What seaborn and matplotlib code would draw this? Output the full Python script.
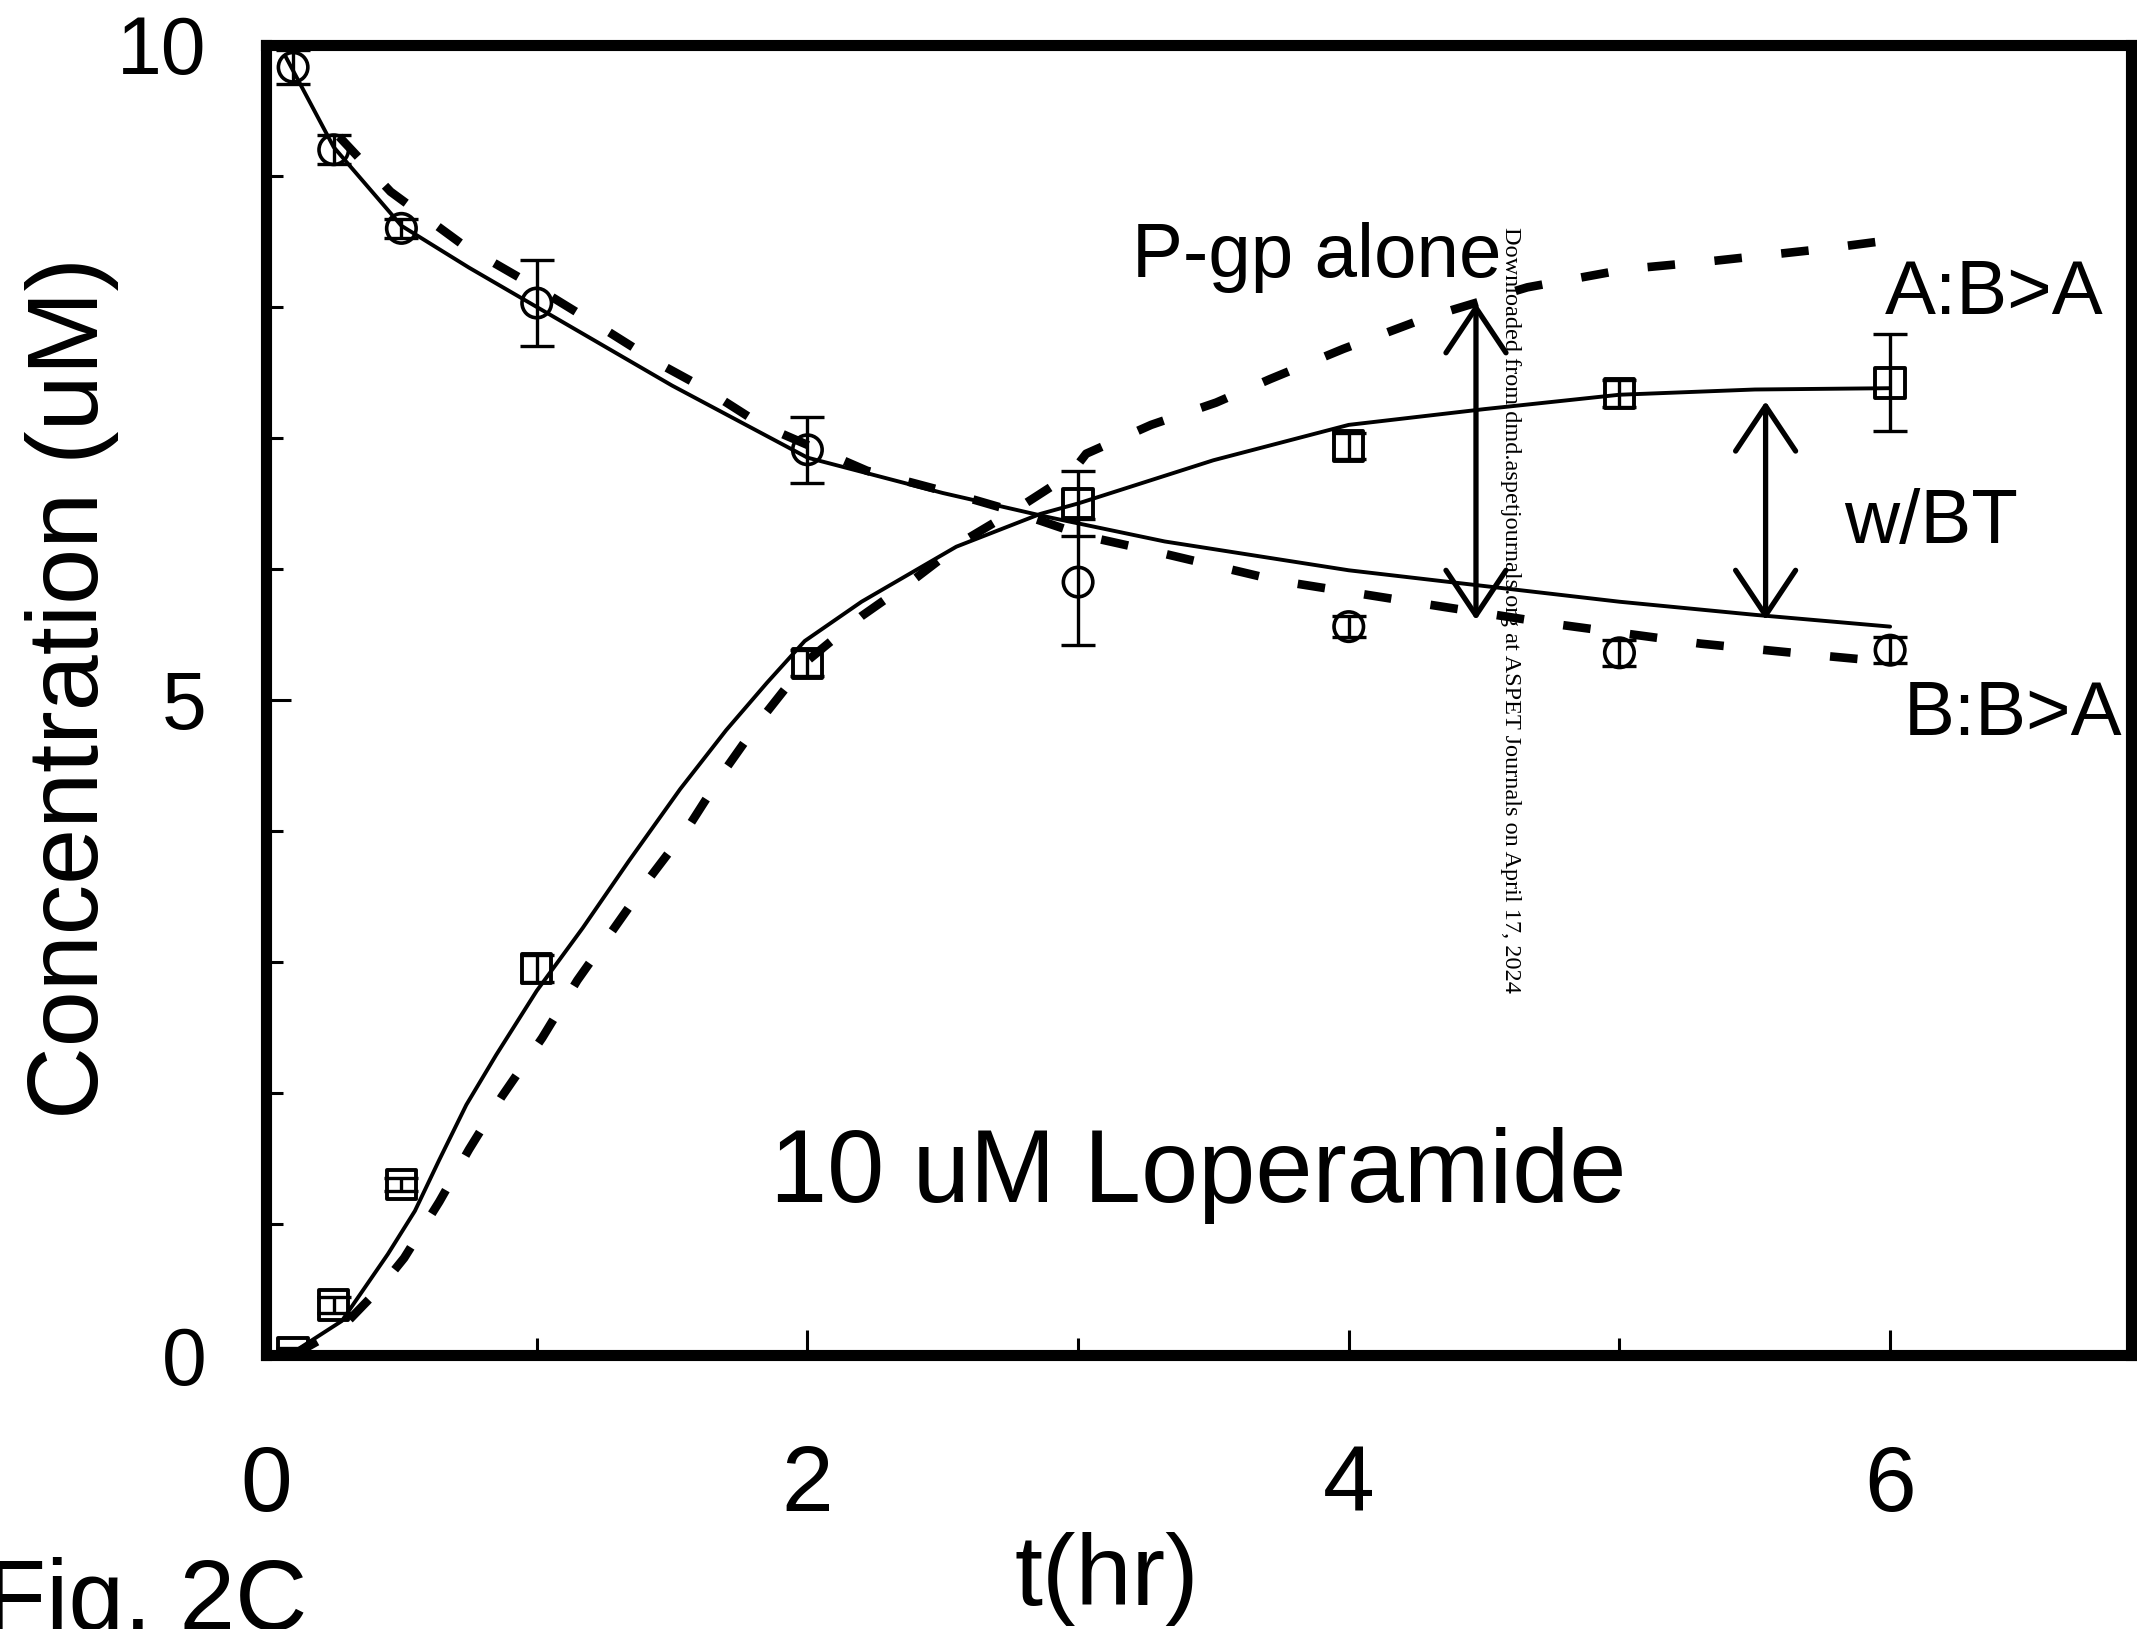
import pandas as pd
import seaborn as sns
import matplotlib.pyplot as plt
from matplotlib.ticker import MultipleLocator

# observed data (mean +/- error), 10 uM loperamide
t_obs = [0.1, 0.25, 0.5, 1, 2, 3, 4, 5, 6]
b_obs = [9.83, 9.2, 8.6, 8.03, 6.91, 5.9, 5.56, 5.36, 5.38]      # circles, B:B>A
b_err = [0.13, 0.11, 0.07, 0.33, 0.25, 0.48, 0.08, 0.1, 0.1]
a_obs = [0.02, 0.38, 1.3, 2.95, 5.28, 6.5, 6.94, 7.34, 7.42]     # squares, A:B>A
a_err = [0.03, 0.06, 0.05, 0.1, 0.1, 0.25, 0.1, 0.1, 0.37]

# model with BT (solid)
t_fit_b = [0.07, 0.25, 0.5, 0.75, 1.0, 1.5, 2.0, 2.5, 2.88, 3.32, 4.0, 4.5, 5.0, 5.5, 6.0]
b_fit = [9.92, 9.22, 8.62, 8.3, 8.0, 7.4, 6.85, 6.58, 6.4, 6.21, 5.99, 5.87, 5.75, 5.65, 5.56]
t_fit_a = [0.085, 0.28, 0.45, 0.55, 0.64, 0.74, 0.85, 1.0, 1.17, 1.34, 1.53, 1.7, 1.85,
           1.99, 2.2, 2.55, 2.86, 3.0, 3.5, 4.0, 4.5, 5.0, 5.5, 6.0]
a_fit = [0.0, 0.26, 0.77, 1.1, 1.49, 1.91, 2.29, 2.78, 3.26, 3.77, 4.32, 4.77, 5.13,
         5.45, 5.75, 6.17, 6.42, 6.5, 6.83, 7.1, 7.22, 7.33, 7.37, 7.38]

# P-gp alone model (dashed)
t_pgp_b = [0.27, 0.46, 0.73, 0.99, 1.25, 1.45, 1.61, 1.83, 2.22, 2.53, 2.73, 3.03, 3.27,
           3.74, 4.29, 4.76, 5.3, 5.74, 6.0]
b_pgp = [9.3, 8.88, 8.47, 8.16, 7.83, 7.57, 7.39, 7.1, 6.75, 6.58, 6.46, 6.25, 6.14,
         5.91, 5.73, 5.58, 5.43, 5.34, 5.29]
t_pgp_a = [0.1, 0.28, 0.42, 0.51, 0.64, 0.75, 0.87, 1.02, 1.15, 1.28, 1.42, 1.56, 1.69,
           1.82, 2.0, 2.2, 2.4, 2.59, 2.76, 2.97, 3.03, 3.27, 3.51, 3.71, 3.98, 4.29,
           4.66, 5.03, 5.34, 5.74, 6.0]
a_pgp = [0.0, 0.21, 0.51, 0.74, 1.17, 1.57, 1.97, 2.42, 2.86, 3.24, 3.65, 4.03, 4.45,
         4.83, 5.3, 5.64, 5.93, 6.23, 6.44, 6.72, 6.88, 7.1, 7.27, 7.45, 7.68, 7.92,
         8.15, 8.29, 8.35, 8.44, 8.51]

# difference arrows (x, y_top, y_bottom)
arrow_pgp = (4.47, 8.03, 5.61)
arrow_bt = (5.54, 7.28, 5.61)

sns.set_theme(style="white")
plt.rcParams["font.family"] = ["Liberation Sans", "DejaVu Sans"]
plt.rcParams["text.color"] = "black"
plt.rcParams["axes.labelcolor"] = "black"
plt.rcParams["xtick.color"] = "black"
plt.rcParams["ytick.color"] = "black"

fig = plt.figure(figsize=(21.37, 16.29), dpi=100)
ax = fig.add_axes([0.1245, 0.1682, 0.8727, 0.8042])

dash = (0, (3.2, 4.6))
sns.lineplot(x=t_fit_b, y=b_fit, ax=ax, color="black", lw=2.8, sort=False, estimator=None)
sns.lineplot(x=t_fit_a, y=a_fit, ax=ax, color="black", lw=2.8, sort=False, estimator=None)
sns.lineplot(x=t_pgp_b, y=b_pgp, ax=ax, color="black", lw=6.2, linestyle=dash,
             sort=False, estimator=None)
sns.lineplot(x=t_pgp_a, y=a_pgp, ax=ax, color="black", lw=6.2, linestyle=dash,
             sort=False, estimator=None)

# error bars + open markers
ax.errorbar(t_obs, b_obs, yerr=b_err, fmt="none", ecolor="black", elinewidth=2.4,
            capsize=12, capthick=2.4)
ax.errorbar(t_obs, a_obs, yerr=a_err, fmt="none", ecolor="black", elinewidth=2.4,
            capsize=12, capthick=2.4)
sns.scatterplot(x=t_obs, y=b_obs, ax=ax, marker="o", s=450, color="black",
                facecolors="none", edgecolor="black", linewidth=2.6, zorder=5)
sns.scatterplot(x=t_obs, y=a_obs, ax=ax, marker="s", s=450, color="black",
                facecolors="none", edgecolor="black", linewidth=2.8, zorder=5)

# double-headed arrows
for xa, ytop, ybot in [arrow_pgp, arrow_bt]:
    ax.annotate("", xy=(xa, ytop), xytext=(xa, ybot),
                arrowprops=dict(arrowstyle="<->,head_length=1.62,head_width=1.08",
                                mutation_scale=20, lw=3.8, color="black",
                                shrinkA=0, shrinkB=0))

ax.text(3.2, 8.23, "P-gp alone", fontsize=55, ha="left", va="baseline")
ax.text(5.98, 7.95, "A:B>A", fontsize=55, ha="left", va="baseline")
ax.text(5.83, 6.2, "w/BT", fontsize=55, ha="left", va="baseline")
ax.text(6.05, 4.73, "B:B>A", fontsize=55, ha="left", va="baseline")
ax.text(1.86, 1.17, "10 uM Loperamide", fontsize=74, ha="left", va="baseline")

ax.set_xlim(0, 6.89)
ax.set_ylim(0, 10)
ax.xaxis.set_major_locator(MultipleLocator(2))
ax.xaxis.set_minor_locator(MultipleLocator(1))
ax.yaxis.set_major_locator(MultipleLocator(5))
ax.yaxis.set_minor_locator(MultipleLocator(1))
ax.tick_params(which="both", direction="in", width=2.2, top=False, right=False,
               bottom=True, left=True)
ax.tick_params(which="major", length=18)
ax.tick_params(which="minor", length=12)
ax.tick_params(axis="x", labelsize=67, pad=64)
ax.tick_params(axis="y", labelsize=58, pad=43)
for s in ax.spines.values():
    s.set_linewidth(8)
    s.set_color("black")

ax.set_ylabel("Concentration (uM)", fontsize=72.5)
ax.yaxis.set_label_coords(-0.0788, 0.509)
ax.set_xlabel("t(hr)", fontsize=72.5)
ax.xaxis.set_label_coords(0.451, -0.135)

fig.text(0.144, -0.0006, "Fig. 2C", fontsize=72, ha="right", va="baseline")
fig.text(0.7066, 0.8607,
         "Downloaded from dmd.aspetjournals.org at ASPET Journals on April 17, 2024",
         rotation=-90, ha="center", va="top", family="Liberation Serif", fontsize=17.5)

fig.savefig("out.png", dpi=100)
